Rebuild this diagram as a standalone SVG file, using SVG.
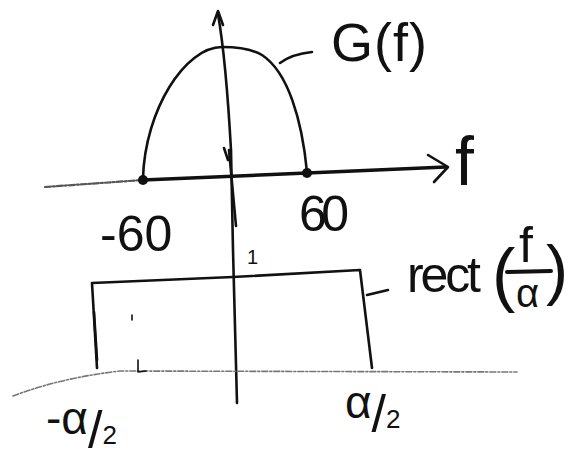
<svg xmlns="http://www.w3.org/2000/svg" width="571" height="454" viewBox="0 0 571 454">
<style>
.ink{fill:none;stroke:#111;stroke-width:2.6;stroke-linecap:round;stroke-linejoin:round}
.thick{stroke-width:3.4}
.faint{fill:none;stroke:#777;stroke-width:1.6;stroke-dasharray:6 2 2 2;stroke-linecap:round}
.lbl{font-family:"Liberation Sans",Arial,sans-serif;fill:#111}
</style>
<rect width="571" height="454" fill="#fff"/>
<g id="axes">
  <path class="ink" d="M218,14 Q226,60 231,150 L233,250 L237,403"/>
  <path class="ink" d="M213,25 L218,11 L223,25"/>
  <path class="ink" d="M229,150 L236,226 M224,148 L228,160"/>
  <path class="faint" style="stroke:#555;stroke-width:2.2" d="M45,187 L143,180"/>
  <path class="ink thick" d="M143,180 L307,173 L446,167"/>
  <path class="ink" d="M428,155 L448,167 L434,182"/>
  <path class="faint" d="M13,396 Q60,378 120,371 L517,372"/>
</g>
<g id="G-curve">
  <path class="ink" d="M143,178 C145,110 185,47 222,47 C240,47 252,49 262,55 C288,72 302,120 307,172"/>
  <circle cx="143" cy="180" r="5" fill="#111"/>
  <circle cx="307" cy="173" r="5" fill="#111"/>
  <path class="ink" d="M280,63 Q292,54 312,52"/>
</g>
<g id="rect-fn">
  <path class="ink" d="M97,368 L92,283 L233,277 L360,270 L372,368"/>
  <path class="ink" d="M94,312 L97,360"/>
  <path class="ink" d="M367,295 L388,290"/>
  <path class="ink" style="stroke-width:1.6" d="M132,315 L132,320 M138,360 L138,372 L146,371"/>
</g>
<g id="labels">
  <text class="lbl" x="331" y="61" font-size="54" textLength="96">G(f)</text>
  <text class="lbl" x="455" y="185" font-size="68">f</text>
  <text class="lbl" x="100" y="251" font-size="50">-60</text>
  <text class="lbl" x="299" y="231" font-size="50" textLength="50">60</text>
  <text class="lbl" x="247" y="264" font-size="20">1</text>
  <text class="lbl" x="407" y="292" font-size="50" textLength="74">rect</text>
  <text class="lbl" x="492" y="298" font-size="70">(</text>
  <text class="lbl" x="546" y="292" font-size="66">)</text>
  <text class="lbl" x="519" y="262" font-size="50">f</text>
  <path class="ink" style="stroke-width:4" d="M507,272 L551,271"/>
  <text class="lbl" x="516" y="307" font-size="40">α</text>
  <text class="lbl" x="46" y="434" font-size="46">-α<tspan font-size="52" dy="14">/</tspan><tspan font-size="26" dy="-4">2</tspan></text>
  <text class="lbl" x="345" y="418" font-size="46">α<tspan font-size="52" dy="14">/</tspan><tspan font-size="26" dy="-4">2</tspan></text>
</g>
</svg>
